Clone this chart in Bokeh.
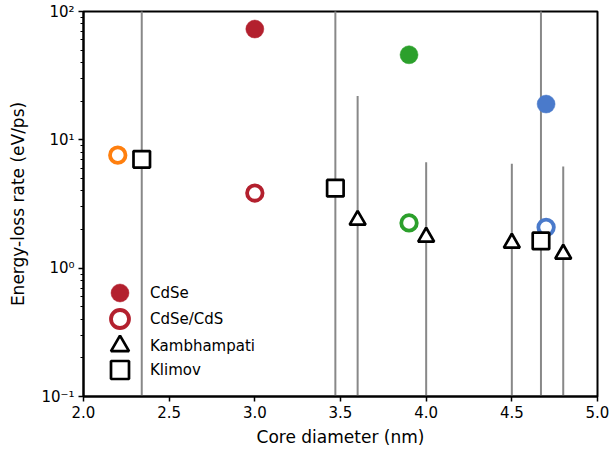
from bokeh.plotting import figure
from bokeh.models import Range1d, FixedTicker, Legend, LegendItem, NumeralTickFormatter
from bokeh.embed import file_html
from bokeh.resources import INLINE

FONT = "DejaVu Sans"

# CdSe cores (filled circles)
cdse_d = [3.0, 3.9, 4.7]
cdse_rate = [73.0, 46.0, 19.0]
cdse_color = ["#b3202e", "#2ca02c", "#4a7acb"]

# CdSe/CdS core/shell dots (open circles)
shell_d = [3.0, 3.9, 4.7, 2.2]
shell_rate = [3.85, 2.25, 2.08, 7.6]
shell_color = ["#b3202e", "#2ca02c", "#4a7acb", "#ff7f0e"]

# Kambhampati (triangles) with error range
kamb_d = [3.6, 4.0, 4.5, 4.8]
kamb_rate = [2.37, 1.75, 1.57, 1.29]
kamb_hi = [22.0, 6.7, 6.5, 6.2]
kamb_lo = [0.05, 0.05, 0.05, 0.05]

# Klimov (squares) with error range
klimov_d = [2.34, 3.47, 4.67]
klimov_rate = [7.05, 4.2, 1.63]
klimov_hi = [300.0, 300.0, 300.0]
klimov_lo = [0.05, 0.05, 0.05]

x_ticks = [2.0, 2.5, 3.0, 3.5, 4.0, 4.5, 5.0]
y_ticks = [0.1, 1.0, 10.0, 100.0]
y_tick_labels = ["10\u207b\u00b9", "10\u2070", "10\u00b9", "10\u00b2"]
y_minor = [m * d for d in (0.1, 1.0, 10.0) for m in range(2, 10)]

p = figure(width=610, height=456, x_range=Range1d(2.0, 5.0), y_range=Range1d(0.1, 100),
           y_axis_type="log", output_backend="svg", toolbar_location=None,
           min_border_left=83, min_border_right=13, min_border_top=11, min_border_bottom=60)
p.grid.visible = False
p.outline_line_color = "black"
p.outline_line_width = 2
p.background_fill_color = "white"

# error ranges
err_color = "#888888"
p.segment(x0=kamb_d, y0=kamb_lo, x1=kamb_d, y1=kamb_hi, line_color=err_color, line_width=2)
p.segment(x0=klimov_d, y0=klimov_lo, x1=klimov_d, y1=klimov_hi, line_color=err_color, line_width=2)

r_cdse = p.scatter(x=cdse_d, y=cdse_rate, marker="circle", size=18, fill_color=cdse_color,
                   line_color=cdse_color, line_width=0.5)
r_shell = p.scatter(x=shell_d, y=shell_rate, marker="circle", size=15.5, fill_color="white",
                    line_color=shell_color, line_width=3.8)
r_kamb = p.scatter(x=kamb_d, y=kamb_rate, marker="triangle", size=16, fill_color="white",
                   line_color="black", line_width=2.7)
r_klim = p.scatter(x=klimov_d, y=klimov_rate, marker="square", size=16.5, fill_color="white",
                   line_color="black", line_width=2.7)

for ax in (p.xaxis[0], p.yaxis[0]):
    ax.axis_line_width = 2
    ax.major_tick_line_width = 1.5
    ax.minor_tick_line_width = 1
    ax.major_tick_out = 5
    ax.major_tick_in = 0
    ax.minor_tick_out = 3
    ax.minor_tick_in = 0
    ax.major_label_text_font = FONT
    ax.major_label_text_font_size = "15px"
    ax.major_label_text_color = "black"
    ax.axis_label_text_font = FONT
    ax.axis_label_text_font_size = "17px"
    ax.axis_label_text_font_style = "normal"
    ax.axis_label_text_color = "black"

p.xaxis.ticker = FixedTicker(ticks=x_ticks)
p.xaxis.formatter = NumeralTickFormatter(format="0.0")
p.xaxis.minor_tick_line_color = None
p.xaxis.axis_label = "Core diameter (nm)"
p.xaxis.major_label_standoff = 4
p.xaxis.axis_label_standoff = 6

p.yaxis.ticker = FixedTicker(ticks=y_ticks, minor_ticks=y_minor)
p.yaxis.major_label_overrides = {t: s for t, s in zip(y_ticks, y_tick_labels)}
p.yaxis.axis_label = "Energy-loss rate (eV/ps)"
p.yaxis.major_label_standoff = 4
p.yaxis.axis_label_standoff = 10

# one single-entry legend per row, so the rows can sit closer than the marker boxes
entries = [
    ("CdSe", r_cdse, 0, 81),
    ("CdSe/CdS", r_shell, 0, 55),
    ("Kambhampati", r_kamb, None, 28),
    ("Klimov", r_klim, None, 4),
]
for label, rend, idx, dy in entries:
    item = LegendItem(label=label, renderers=[rend], index=idx)
    lg = Legend(items=[item], location=(14, dy))
    lg.border_line_color = None
    lg.background_fill_alpha = 0
    lg.glyph_width = 45
    lg.glyph_height = 45
    lg.padding = 0
    lg.margin = 0
    lg.label_standoff = 8
    lg.label_text_font = FONT
    lg.label_text_font_size = "15px"
    lg.label_text_color = "black"
    p.add_layout(lg, "center")

open("out.html", "w").write(file_html(p, INLINE))
